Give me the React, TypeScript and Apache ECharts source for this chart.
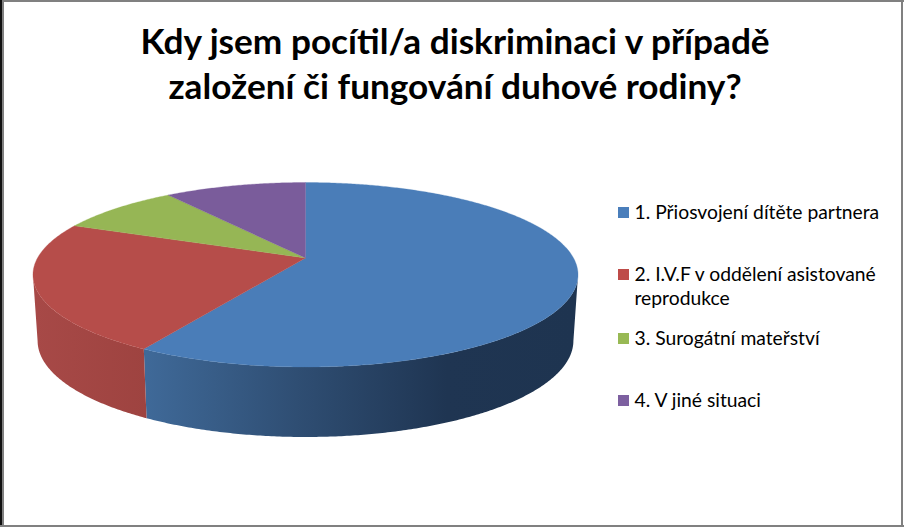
import React, { useEffect, useRef } from "react";
import * as echarts from "echarts";

const titleText = "Kdy jsem pocítil/a diskriminaci v případě\nzaložení či fungování duhové rodiny?";
const categories = [
  "1. Přiosvojení dítěte partnera",
  "2. I.V.F v oddělení asistované\nreprodukce",
  "3. Surogátní mateřství",
  "4. V jiné situaci",
];
const values = [58.5, 22.8, 8.7, 10];
const topColors = ["#4A7DB8", "#B64D4A", "#96B655", "#7A5C9B"];
const legendColors = ["#4A7EBB", "#BE4B48", "#98B954", "#7D60A0"];
const legendY = [212.5, 274.5, 338.5, 400.5];

// perspective disc
const CX = 305.5;
const CY = 258;
const A = 268;
const B = 89.2;
const K = -0.1816;
const DEG = Math.PI / 180;
const SIL_R = 100.6;
const SIL_L = 259.4;

function rim(deg: number): [number, number] {
  const u = Math.sin(deg * DEG);
  const v = -Math.cos(deg * DEG);
  const d = 1 + K * v;
  return [CX + (A * u) / d, CY + (B * v) / d];
}
function lower(p: [number, number]): [number, number] {
  const off = 66 + (4 * (p[1] - 275)) / 92;
  return [CX + (p[0] - CX) * 0.983, p[1] + off];
}
function arc(a: number, b: number, f: (d: number) => [number, number]) {
  const n = Math.max(2, Math.ceil(Math.abs(b - a) * 2));
  const out: [number, number][] = [];
  for (let i = 0; i <= n; i++) out.push(f(a + ((b - a) * i) / n));
  return out;
}

const sideFills = [
  () =>
    new echarts.graphic.LinearGradient(
      147, 0, 575, 0,
      [
        { offset: 0, color: "#3F6998" },
        { offset: 0.35, color: "#2F4E73" },
        { offset: 0.7, color: "#1F3552" },
        { offset: 1, color: "#1E3450" },
      ],
      true
    ),
  () =>
    new echarts.graphic.LinearGradient(
      35, 0, 147, 0,
      [
        { offset: 0, color: "#A74947" },
        { offset: 1, color: "#9E4340" },
      ],
      true
    ),
];

export default function App() {
  const ref = useRef<HTMLDivElement>(null);
  useEffect(() => {
    document.body.style.margin = "0";
    const chart = echarts.init(ref.current!, null, { renderer: "svg" });
    const total = values.reduce((a, b) => a + b, 0);
    const starts: number[] = [];
    let acc = 0;
    values.forEach((v) => {
      starts.push((acc / total) * 360);
      acc += v;
    });

    const renderItem = (params: any) => {
      const i = params.dataIndex;
      const a0 = starts[i];
      const a1 = a0 + (values[i] / total) * 360;
      const children: any[] = [];
      const s0 = Math.max(a0, SIL_R);
      const s1 = Math.min(a1, SIL_L);
      if (s1 > s0) {
        const up = arc(s0, s1, rim);
        const lo = up.map(lower).reverse();
        children.push({
          type: "polygon",
          shape: { points: [...up, ...lo] },
          style: { fill: sideFills[i] ? sideFills[i]() : topColors[i], stroke: "none" },
        });
      }
      children.push({
        type: "polygon",
        shape: { points: [[CX, CY], ...arc(a0, a1, rim)] },
        style: { fill: topColors[i], stroke: topColors[i], lineWidth: 0.3 },
      });
      return { type: "group", children };
    };

    const legendGraphics: any[] = [];
    categories.forEach((c, i) => {
      legendGraphics.push({
        type: "rect",
        shape: { x: 618, y: legendY[i] - 5.5, width: 11, height: 11 },
        style: { fill: legendColors[i] },
      });
      legendGraphics.push({
        type: "text",
        x: 634.5,
        y: legendY[i] - 13,
        style: {
          text: c,
          fill: "#000",
          font: "19.3px Lato",
          lineHeight: 24,
          textVerticalAlign: "top",
        },
      });
    });

    const border = [
      { x: 0, y: 0, width: 904, height: 2, fill: "#808080" },
      { x: 0, y: 0, width: 2, height: 527, fill: "#111111" },
      { x: 2, y: 0, width: 2, height: 527, fill: "#808080" },
      { x: 901, y: 0, width: 2, height: 527, fill: "#808080" },
      { x: 0, y: 525, width: 904, height: 2, fill: "#808080" },
    ].map((b) => ({
      type: "rect",
      shape: { x: b.x, y: b.y, width: b.width, height: b.height },
      style: { fill: b.fill },
    }));

    chart.setOption({
      animation: false,
      backgroundColor: "#fff",
      title: {
        text: titleText,
        left: 450,
        top: 12,
        textAlign: "center",
        textStyle: {
          fontFamily: "Lato",
          fontWeight: "bold",
          fontSize: 35.2,
          lineHeight: 45,
          color: "#000",
        },
      },
      graphic: [...border, ...legendGraphics],
      series: [
        {
          type: "custom",
          coordinateSystem: "none",
          silent: true,
          renderItem,
          data: categories.map((c, i) => ({ name: c, value: values[i] })),
        },
      ],
    });
    return () => chart.dispose();
  }, []);
  return <div ref={ref} style={{ position: "fixed", left: 0, top: 0, width: 904, height: 527 }} />;
}
